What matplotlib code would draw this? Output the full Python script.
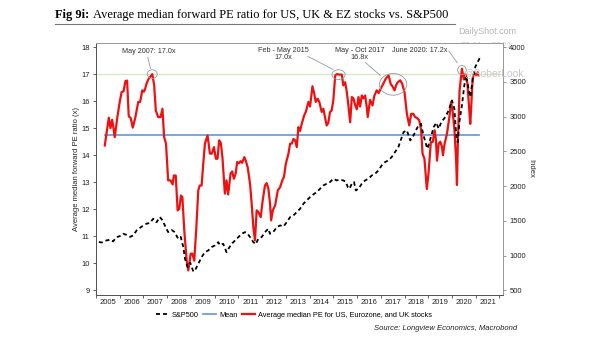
import matplotlib
matplotlib.use("Agg")
import matplotlib.pyplot as plt
from matplotlib.patches import Ellipse
from matplotlib.lines import Line2D
from matplotlib.ticker import FixedLocator, NullFormatter

plt.rcParams.update({
    "font.family": ["Liberation Sans", "DejaVu Sans"],
    "font.size": 5.5,
})

# --- data ---
# average median forward PE for US, Eurozone & UK stocks (decimal year, x)
pe_t = [2005.37, 2005.54, 2005.61, 2005.68, 2005.74, 2005.79, 2005.90, 2006.00, 2006.08, 2006.16,
        2006.24, 2006.31, 2006.38, 2006.46, 2006.55, 2006.66, 2006.78, 2006.86, 2006.95, 2007.02,
        2007.07, 2007.13, 2007.20, 2007.37, 2007.45, 2007.52, 2007.62, 2007.72, 2007.80, 2007.87,
        2007.95, 2008.04, 2008.14, 2008.23, 2008.28, 2008.36, 2008.44, 2008.51, 2008.58, 2008.64,
        2008.72, 2008.82, 2008.89, 2008.99, 2009.06, 2009.14, 2009.22, 2009.31, 2009.37, 2009.45,
        2009.52, 2009.59, 2009.70, 2009.80, 2009.88, 2009.97, 2010.05, 2010.12, 2010.19, 2010.26,
        2010.33, 2010.43, 2010.50, 2010.57, 2010.67, 2010.74, 2010.81, 2010.88, 2010.95, 2011.02,
        2011.09, 2011.16, 2011.25, 2011.31, 2011.39, 2011.49, 2011.56, 2011.63, 2011.70, 2011.77,
        2011.84, 2011.94, 2012.02, 2012.12, 2012.19, 2012.26, 2012.33, 2012.38, 2012.45, 2012.55,
        2012.66, 2012.76, 2012.85, 2012.92, 2013.00, 2013.11, 2013.18, 2013.25, 2013.32, 2013.39,
        2013.46, 2013.53, 2013.60, 2013.67, 2013.77, 2013.84, 2013.95, 2014.02, 2014.12, 2014.19,
        2014.26, 2014.34, 2014.41, 2014.51, 2014.58, 2014.65, 2014.72, 2014.79, 2014.86, 2014.93,
        2015.00, 2015.08, 2015.15, 2015.26, 2015.36, 2015.42, 2015.50, 2015.57, 2015.64, 2015.71,
        2015.78, 2015.85, 2015.92, 2015.99, 2016.06, 2016.13, 2016.20, 2016.27, 2016.34, 2016.41,
        2016.45, 2016.55, 2016.65, 2016.73, 2016.83, 2016.91, 2016.99, 2017.11, 2017.21, 2017.33,
        2017.42, 2017.49, 2017.58, 2017.66, 2017.72, 2017.82, 2017.90, 2018.00, 2018.10, 2018.20,
        2018.28, 2018.37, 2018.45, 2018.53, 2018.62, 2018.70, 2018.76, 2018.84, 2018.94, 2019.01,
        2019.11, 2019.19, 2019.27, 2019.32, 2019.37, 2019.44, 2019.51, 2019.58, 2019.62, 2019.69,
        2019.79, 2019.89, 2019.96, 2020.03, 2020.10, 2020.17, 2020.21, 2020.25, 2020.32, 2020.42,
        2020.50, 2020.57, 2020.65, 2020.70, 2020.77, 2020.80, 2020.87, 2020.94, 2021.00, 2021.08,
        2021.12]
pe_val = [14.36, 15.39, 15.00, 15.31, 14.98, 14.67, 15.41, 15.97, 16.34, 16.36,
          16.74, 16.76, 15.44, 15.38, 15.02, 15.41, 15.97, 15.97, 16.40, 16.35,
          16.45, 16.65, 16.80, 17.00, 16.60, 15.66, 15.41, 15.41, 15.72, 14.67,
          14.43, 13.07, 13.07, 12.92, 13.25, 13.25, 11.96, 12.02, 12.51, 12.45,
          11.22, 10.10, 9.74, 10.36, 10.36, 10.10, 11.20, 12.70, 12.88, 12.88,
          13.69, 14.43, 14.73, 14.06, 14.06, 14.30, 13.87, 13.87, 14.55, 14.45,
          13.90, 12.58, 13.07, 12.55, 13.32, 13.40, 13.13, 13.30, 13.75, 13.70,
          13.78, 13.72, 13.93, 13.80, 13.56, 12.95, 12.21, 11.34, 10.85, 11.96,
          11.90, 11.71, 12.30, 12.88, 12.97, 12.78, 12.25, 11.59, 11.96, 12.15,
          12.70, 12.82, 13.07, 13.20, 13.69, 14.06, 14.43, 14.43, 14.60, 14.55,
          14.30, 15.04, 14.90, 15.16, 15.47, 15.60, 15.97, 15.80, 16.55, 16.30,
          15.97, 16.09, 15.97, 15.60, 15.72, 15.41, 15.10, 15.20, 15.60, 15.65,
          16.03, 16.95, 17.00, 16.98, 16.98, 16.58, 16.70, 16.33, 15.80, 15.22,
          16.15, 16.10, 15.85, 15.70, 16.15, 15.80, 16.21, 16.10, 16.21, 15.78,
          15.41, 16.05, 15.84, 16.20, 16.40, 16.30, 16.45, 16.65, 16.83, 16.95,
          16.63, 16.55, 16.40, 16.62, 16.70, 16.77, 16.65, 16.33, 15.53, 15.10,
          15.53, 15.53, 15.41, 15.38, 15.29, 14.92, 14.06, 13.87, 12.75, 13.32,
          14.49, 14.49, 14.92, 14.60, 13.80, 14.43, 14.50, 14.30, 14.00, 14.43,
          14.80, 15.41, 15.97, 15.60, 14.98, 13.93, 12.90, 14.55, 16.40, 17.20,
          16.80, 17.00, 16.65, 16.03, 15.16, 15.60, 16.83, 17.05, 16.95, 17.07,
          16.95]
pe_mean = 14.73
pe_ref = 17.0

# S&P500 index level (right axis)
spx_t = [2005.12, 2005.25, 2005.44, 2005.60, 2005.72, 2005.86, 2006.00, 2006.14, 2006.28, 2006.43,
         2006.57, 2006.71, 2006.85, 2006.99, 2007.13, 2007.27, 2007.41, 2007.55, 2007.69, 2007.80,
         2007.90, 2008.04, 2008.18, 2008.32, 2008.46, 2008.57, 2008.68, 2008.75, 2008.86, 2008.97,
         2009.10, 2009.17, 2009.31, 2009.45, 2009.59, 2009.73, 2009.87, 2010.01, 2010.15, 2010.22,
         2010.36, 2010.50, 2010.60, 2010.72, 2010.86, 2011.00, 2011.14, 2011.28, 2011.38, 2011.49,
         2011.63, 2011.73, 2011.84, 2011.98, 2012.12, 2012.26, 2012.33, 2012.47, 2012.62, 2012.76,
         2012.90, 2013.04, 2013.18, 2013.32, 2013.46, 2013.60, 2013.74, 2013.88, 2014.02, 2014.16,
         2014.30, 2014.44, 2014.58, 2014.72, 2014.86, 2015.00, 2015.14, 2015.28, 2015.42, 2015.52,
         2015.61, 2015.68, 2015.78, 2015.87, 2015.95, 2016.06, 2016.20, 2016.34, 2016.48, 2016.62,
         2016.76, 2016.90, 2017.04, 2017.18, 2017.32, 2017.46, 2017.60, 2017.74, 2017.86, 2017.96,
         2018.10, 2018.24, 2018.38, 2018.55, 2018.69, 2018.80, 2018.92, 2018.97, 2019.09, 2019.23,
         2019.34, 2019.44, 2019.55, 2019.72, 2019.86, 2020.00, 2020.10, 2020.18, 2020.24, 2020.32,
         2020.42, 2020.52, 2020.60, 2020.67, 2020.77, 2020.88, 2020.98, 2021.05, 2021.12, 2021.18]
spx_val = [1196, 1190, 1219, 1230, 1205, 1267, 1280, 1315, 1300, 1270,
           1291, 1363, 1400, 1435, 1460, 1470, 1531, 1480, 1555, 1510,
           1435, 1339, 1370, 1339, 1243, 1270, 1123, 956, 835, 900,
           773, 788, 884, 979, 1051, 1075, 1123, 1147, 1195, 1150,
           1171, 1051, 1110, 1171, 1219, 1267, 1315, 1339, 1320, 1267,
           1195, 1165, 1243, 1267, 1339, 1387, 1315, 1340, 1411, 1435,
           1420, 1483, 1555, 1579, 1627, 1675, 1747, 1795, 1842, 1881,
           1914, 1962, 2010, 2035, 2058, 2107, 2082, 2095, 2082, 2065,
           1986, 1962, 2035, 2060, 1938, 1962, 2035, 2082, 2107, 2154,
           2178, 2226, 2298, 2346, 2370, 2418, 2489, 2561, 2680, 2777,
           2802, 2658, 2730, 2849, 2898, 2730, 2586, 2538, 2682, 2849,
           2912, 2826, 2921, 2993, 3089, 3233, 3114, 2730, 2633, 2946,
           3161, 3449, 3593, 3449, 3281, 3545, 3712, 3761, 3809, 3850]

years = list(range(2005, 2022))

red = '#ee1111'
blue = '#6f9de6'

fig = plt.figure(figsize=(6.05, 3.41), dpi=100)
ax = fig.add_axes([96 / 605, 1 - 294.5 / 341, 407 / 605, 251.5 / 341])
ax2 = ax.twinx()
ax.set_zorder(1)
ax2.set_zorder(2)
ax2.patch.set_visible(False)

# left axis: PE
ax.axhline(pe_ref, color='#d3e8c0', lw=0.8, zorder=1)
ax.plot([pe_t[0], pe_t[-1]], [pe_mean, pe_mean], color=blue, lw=1.3, zorder=2)
ax.plot(pe_t, pe_val, color=red, lw=1.6, zorder=3, solid_joinstyle='round')

# right axis: S&P500
ax2.plot(spx_t, spx_val, color='black', lw=1.3, dashes=(2.2, 1.7), zorder=4)

ax.set_xlim(2005.0, 2022.15)
ax.set_ylim(8.85, 18.15)
ax2.set_ylim(500 + (8.85 - 9) * 3500 / 9, 500 + (18.15 - 9) * 3500 / 9)

ax.set_yticks(range(9, 19))
ax2.set_yticks(range(500, 4001, 500))

# year ticks at year starts, labels in the middle of each year
ax.xaxis.set_major_locator(FixedLocator(years + [2022]))
ax.xaxis.set_major_formatter(NullFormatter())
ax.xaxis.set_minor_locator(FixedLocator([y + 0.5 for y in years]))
ax.set_xticklabels([str(y) for y in years], minor=True)
ax.tick_params(axis='x', which='major', direction='out', length=2.5, width=0.6, color='#444')
ax.tick_params(axis='x', which='minor', length=0, pad=3, labelsize=5.5, labelcolor='#222')
ax.tick_params(axis='y', direction='out', length=2.5, width=0.6, color='#444', labelsize=5.5,
               labelcolor='#222', pad=2)
ax2.tick_params(axis='y', direction='out', length=2.5, width=0.6, color='#888', labelsize=5.5,
                labelcolor='#222', pad=2)

for a in (ax, ax2):
    a.spines['left'].set_color('#555')
    a.spines['bottom'].set_color('#555')
    a.spines['top'].set_color('#999')
    a.spines['right'].set_color('#999')
    for s in a.spines.values():
        s.set_linewidth(0.7)

ax.set_ylabel('Average median forward PE ratio (x)', fontsize=5.5, labelpad=1, color='#222')
ax2.set_ylabel('Index', fontsize=5.5, rotation=-90, labelpad=6, color='#222')

# annotations
ann = dict(fontsize=5.2, color='#333', ha='center', va='center')
lead = dict(color='#999', lw=0.6)
ax.text(2007.23, 17.85, 'May 2007: 17.0x', **ann)
ax.plot([2007.18, 2007.3], [17.62, 17.2], **lead)
ax.add_patch(Ellipse((2007.37, 17.0), 0.42, 0.32, fill=False, ec='#999', lw=0.6, zorder=5))

ax.text(2012.9, 17.75, 'Feb - May 2015\n17.0x', linespacing=1.1, **ann)
ax.plot([2013.94, 2014.99], [17.65, 17.17], **lead)
ax.add_patch(Ellipse((2015.22, 16.98), 0.55, 0.36, fill=False, ec='#999', lw=0.6, zorder=5))

ax.text(2016.1, 17.75, 'May - Oct 2017\n16.8x', linespacing=1.1, **ann)
ax.plot([2016.35, 2016.98], [17.43, 16.95], **lead)
ax.add_patch(Ellipse((2017.52, 16.62), 1.15, 0.8, fill=False, ec='#999', lw=0.6, zorder=5))

ax.text(2018.62, 17.88, 'June 2020: 17.2x', **ann)
ax.plot([2019.87, 2020.22], [17.85, 17.42], **lead)
ax.add_patch(Ellipse((2020.42, 17.15), 0.36, 0.34, fill=False, ec='#999', lw=0.6, zorder=5))

# watermarks
fig.text(461 / 605, 1 - 46 / 341, '30-Mar-2021', fontsize=6.5, color='#d0d0d0', va='center', zorder=0)
fig.text(463 / 605, 1 - 73 / 341, '@SoberLook', fontsize=7.5, color='#c8c8c8', va='center', zorder=10)
fig.text(516 / 605, 1 - 31 / 341, 'DailyShot.com', fontsize=6.5, color='#b5b5b5', ha='right', va='center')

# title: bold prefix + regular remainder, underlined
title_y = 1 - 15 / 341
t1 = fig.text(55 / 605, title_y, 'Fig 9i:', fontsize=8.9, fontweight='bold',
              family='Liberation Serif', va='center')
fig.canvas.draw()
bb = t1.get_window_extent()
fig.text(bb.x1 / fig.bbox.width + 0.006, title_y,
         'Average median forward PE ratio for US, UK & EZ stocks vs. S&P500',
         fontsize=8.9, family='Liberation Serif', va='center')
fig.add_artist(Line2D([55 / 605, 455 / 605], [1 - 24 / 341, 1 - 24 / 341],
                      transform=fig.transFigure, color='#777', lw=0.8))

# legend
handles = [
    Line2D([], [], color='black', lw=1.3, dashes=(2.2, 1.7)),
    Line2D([], [], color=blue, lw=1.3),
    Line2D([], [], color=red, lw=1.6),
]
labels = ['S&P500', 'Mean', 'Average median PE for US, Eurozone, and UK stocks']
fig.legend(handles, labels, loc='center', bbox_to_anchor=(294 / 605, 1 - 315.5 / 341), ncol=3,
           frameon=False, fontsize=5.3, handlelength=1.8, handletextpad=0.4, columnspacing=0.6)

fig.text(517 / 605, 1 - 329 / 341, 'Source: Longview Economics, Macrobond', fontsize=5.5,
         style='italic', ha='right', va='center', color='#222')

fig.savefig('out.png', dpi=100, facecolor='white')
